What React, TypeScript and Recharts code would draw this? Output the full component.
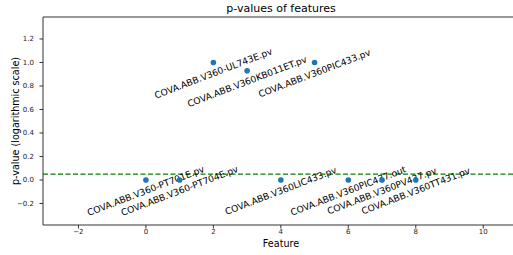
import { ScatterChart, Scatter, XAxis, YAxis, ReferenceLine } from "recharts";

const featureNames = [
  "COVA.ABB.V360-PT701E.pv",
  "COVA.ABB.V360-PT704E.pv",
  "COVA.ABB.V360-UL743E.pv",
  "COVA.ABB.V360KB011ET.pv",
  "COVA.ABB.V360LIC433.pv",
  "COVA.ABB.V360PIC433.pv",
  "COVA.ABB.V360PIC437.out",
  "COVA.ABB.V360PV437.pv",
  "COVA.ABB.V360TT431.pv",
];
const featureIndex = [0, 1, 2, 3, 4, 5, 6, 7, 8];
const pValues = [0.0, 0.0, 1.0, 0.93, 0.0, 1.0, 0.0, 0.0, 0.0];
const threshold = 0.05;

const xTicks = [-2, 0, 2, 4, 6, 8, 10];
const yTicks = [-0.2, 0, 0.2, 0.4, 0.6, 0.8, 1.0, 1.2];
const xDomain = [-3.05, 11.0];
const yDomain = [-0.383, 1.387];

const data = featureIndex.map((x, i) => ({ x, y: pValues[i], name: featureNames[i] }));

const font = "DejaVu Sans, sans-serif";
const axisColor = "#333";

const minus = (v: number, digits: number) => (v < 0 ? "\u2212" + Math.abs(v).toFixed(digits) : v.toFixed(digits));

const PointWithLabel = (props: any) => {
  const { cx, cy, payload } = props;
  const ty = cy + 11;
  return (
    <g>
      <circle cx={cx} cy={cy} r={2.8} fill="#1f77b4" />
      <text
        x={cx}
        y={ty}
        transform={`rotate(-21 ${cx} ${ty})`}
        textAnchor="middle"
        dominantBaseline="central"
        fontFamily={font}
        fontSize={9.1}
        fill="#000"
      >
        {payload.name}
      </text>
    </g>
  );
};

const YLabel = () => (
  <text
    x={15.5}
    y={121}
    transform="rotate(-90 15.5 121)"
    textAnchor="middle"
    dominantBaseline="central"
    fontFamily={font}
    fontSize={9.6}
    fill="#000"
  >
    p-value (logarithmic scale)
  </text>
);

const XLabel = () => (
  <text x={281} y={243} textAnchor="middle" dominantBaseline="central" fontFamily={font} fontSize={9.6} fill="#000">
    Feature
  </text>
);

export default function App() {
  return (
    <div style={{ position: "absolute", left: 0, top: 0, width: 513, height: 255, overflow: "hidden", background: "#fff" }}>
      <div
        style={{
          position: "absolute",
          left: 0,
          width: 562,
          top: 2,
          textAlign: "center",
          fontFamily: font,
          fontSize: 11,
          lineHeight: "13px",
          color: "#000",
        }}
      >
        p-values of features
      </div>
      <ScatterChart width={520} height={255} margin={{ top: 17, right: 3, bottom: 0, left: 0 }}>
        <XAxis
          type="number"
          dataKey="x"
          domain={xDomain}
          ticks={xTicks}
          allowDataOverflow
          height={30}
          tickSize={3.5}
          tickMargin={1}
          stroke={axisColor}
          tick={{ fontFamily: font, fontSize: 7, fill: "#222" }}
          tickFormatter={(v: number) => minus(v, 0)}
          label={<XLabel />}
        />
        <YAxis
          type="number"
          dataKey="y"
          domain={yDomain}
          ticks={yTicks}
          allowDataOverflow
          width={43}
          tickSize={3.5}
          tickMargin={5.5}
          stroke={axisColor}
          tick={{ fontFamily: font, fontSize: 7, fill: "#222" }}
          tickFormatter={(v: number) => minus(v, 1)}
          label={<YLabel />}
        />
        <ReferenceLine y={yDomain[1]} stroke={axisColor} strokeWidth={1} />
        <ReferenceLine y={threshold} stroke="#008000" strokeWidth={1.2} strokeDasharray="5 2.5" />
        <Scatter data={data} shape={PointWithLabel} isAnimationActive={false} />
      </ScatterChart>
    </div>
  );
}
